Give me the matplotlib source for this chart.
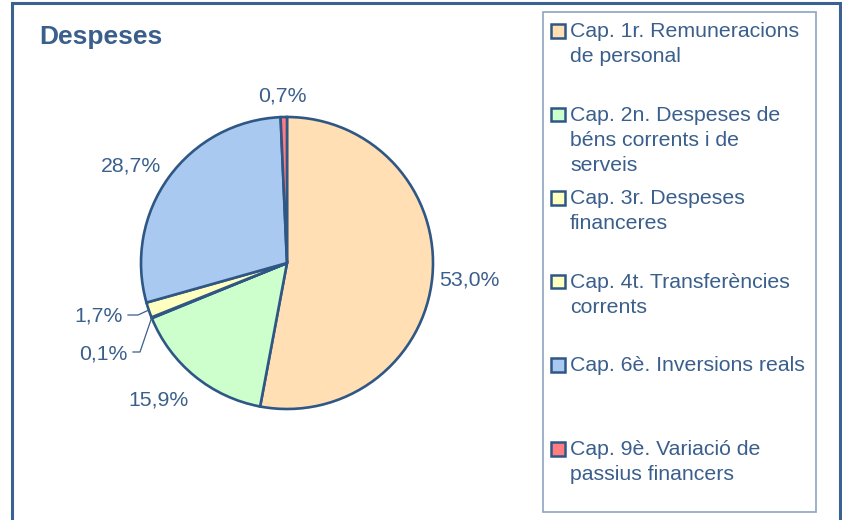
import numpy as np
import matplotlib
matplotlib.use("Agg")
import matplotlib.pyplot as plt
from matplotlib.patches import Rectangle

plt.rcParams['font.family'] = ['Liberation Sans', 'DejaVu Sans']

# data (clockwise from 12 o'clock)
labels = ["Cap. 1r. Remuneracions\nde personal",
          "Cap. 2n. Despeses de\nbéns corrents i de\nserveis",
          "Cap. 3r. Despeses\nfinanceres",
          "Cap. 4t. Transferències\ncorrents",
          "Cap. 6è. Inversions reals",
          "Cap. 9è. Variació de\npassius financers"]
values = [53.0, 15.9, 0.1, 1.7, 28.7, 0.7]
colors = ["#FFDFB3", "#CCFFCC", "#FFFFC0", "#FFFFC0", "#A9C9F0", "#FF7C80"]

W, H = 842, 520
txt = "#3A5F8C"
edge = "#2F5786"

fig = plt.figure(figsize=(W / 100, H / 100), dpi=100)
ax = fig.add_axes([0, 0, 1, 1])
ax.set_xlim(0, W)
ax.set_ylim(0, H)
ax.set_aspect('equal')
ax.axis('off')

def Y(y):
    return H - y

# outer frame
ax.add_patch(Rectangle((11.5, Y(540)), 828.5, 537, fill=False, ec="#3A6190", lw=2.2))

ax.text(39, Y(44), "Despeses", fontsize=19, fontweight='bold', color=txt, va='baseline')

cx, cy, r = 287, 263, 146
wedges, _ = ax.pie(values, colors=colors, startangle=90, counterclock=False,
                   center=(cx, Y(cy)), radius=r,
                   wedgeprops=dict(edgecolor=edge, linewidth=1.9))
ax.set_xlim(0, W)
ax.set_ylim(0, H)

def pct(v):
    return f"{v:.1f}".replace('.', ',') + "%"

# label layout: (x, baseline, ha)
lab_pos = [(469, 286, 'center'), (159, 406, 'center'), (127, 360, 'right'),
           (123, 322, 'right'), (131, 171, 'center'), (282, 102, 'center')]
for v, (x, y, ha) in zip(values, lab_pos):
    ax.text(x, Y(y), pct(v), fontsize=15.3, color=txt, ha=ha, va='baseline')

# leader lines for the small slices
def edge_pt(i):
    w = wedges[i]
    a = np.deg2rad((w.theta1 + w.theta2) / 2)
    return cx + r * np.cos(a), cy - r * np.sin(a)

leaders = {2: [(133, 352), (140, 352)], 3: [(128, 315), (138, 315)]}
for i, pts in leaders.items():
    ex, ey = edge_pt(i)
    xs = [p[0] for p in pts] + [ex]
    ys = [Y(p[1]) for p in pts] + [Y(ey)]
    ax.plot(xs, ys, color=txt, lw=0.9)

# legend
ax.add_patch(Rectangle((543, Y(512)), 273, 500, fill=False, ec="#8EA4C0", lw=1.2))
for i, (lab, c) in enumerate(zip(labels, colors)):
    base = 37 + i * 83.6
    ax.add_patch(Rectangle((551, Y(base + 0.5)), 13.5, 13.5, fc=c, ec=edge, lw=1.8))
    for k, line in enumerate(lab.split("\n")):
        ax.text(570, Y(base + k * 25), line, fontsize=15.3, color=txt, va='baseline')

fig.savefig("out.png", dpi=100)
